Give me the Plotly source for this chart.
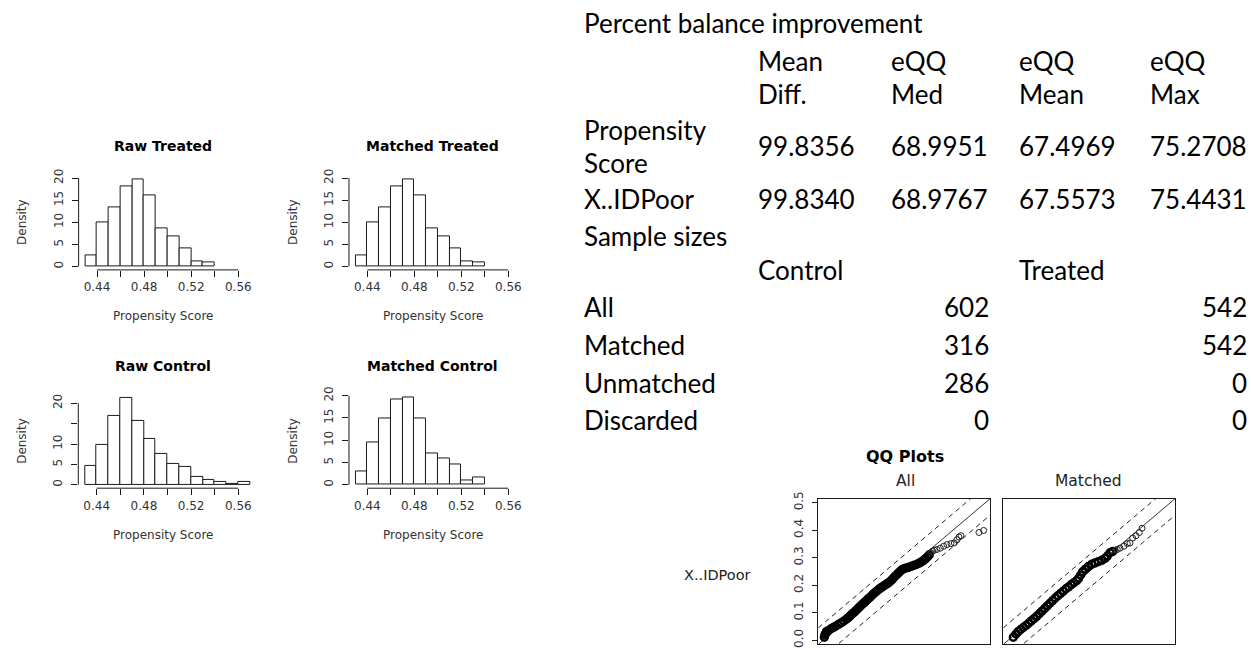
import plotly.graph_objects as go

W, H = 1251, 650

# ---- propensity score histograms (density scale, bin width 0.01) ----
BIN_WIDTH = 0.01
treated_mids = [0.435, 0.445, 0.455, 0.465, 0.475, 0.485, 0.495, 0.505, 0.515, 0.525, 0.535]
raw_treated_density = [2.5, 9.9, 13.3, 18.2, 19.6, 16.1, 8.5, 6.8, 4.1, 1.2, 1.0]
matched_treated_density = [2.5, 9.9, 13.3, 18.2, 19.6, 16.1, 8.5, 6.8, 4.1, 1.2, 1.0]
raw_control_mids = [0.435, 0.445, 0.455, 0.465, 0.475, 0.485, 0.495, 0.505, 0.515,
                    0.525, 0.535, 0.545, 0.555, 0.565]
raw_control_density = [4.7, 9.8, 17.0, 21.2, 15.6, 11.2, 7.6, 5.1, 4.4, 1.8, 1.1, 0.6, 0.3, 0.6]
matched_control_mids = [0.435, 0.445, 0.455, 0.465, 0.475, 0.485, 0.495, 0.505, 0.515, 0.525, 0.535]
matched_control_density = [2.9, 9.6, 14.9, 19.1, 19.5, 14.9, 7.0, 5.8, 4.6, 1.0, 1.6]

hist_x_ticks = [0.44, 0.46, 0.48, 0.50, 0.52, 0.54, 0.56]
hist_x_labels = ["0.44", "", "0.48", "", "0.52", "", "0.56"]
hist_y_ticks = [0, 5, 10, 15, 20]
hist_y_labels = ["0", "5", "10", "15", "20"]
hist_y_labels_short = ["0", "5", "10", "", "20"]

# ---- QQ plot of X..IDPoor (control quantiles vs treated quantiles) ----
qq_all_x = [0.0036, 0.0056, 0.0087, 0.0107, 0.0159, 0.0241, 0.0313, 0.0385, 0.0467, 0.0549,
            0.0631, 0.0713, 0.0775, 0.0837, 0.0898, 0.0960, 0.1021, 0.1083, 0.1145, 0.1206,
            0.1268, 0.1329, 0.1391, 0.1453, 0.1514, 0.1576, 0.1638, 0.1699, 0.1761, 0.1822,
            0.1884, 0.1946, 0.2007, 0.2069, 0.2130, 0.2192, 0.2254, 0.2315, 0.2377, 0.2438,
            0.2500, 0.2572, 0.2644, 0.2726, 0.2808, 0.2890, 0.2972, 0.3034, 0.3096, 0.3157,
            0.3219, 0.3270, 0.3322, 0.3373, 0.3424, 0.3506, 0.3609, 0.3712, 0.3815, 0.3938,
            0.4040, 0.4123, 0.4184, 0.4246, 0.4800, 0.4944]
qq_all_y = [0.0106, 0.0201, 0.0260, 0.0320, 0.0344, 0.0415, 0.0463, 0.0510, 0.0570, 0.0630,
            0.0689, 0.0760, 0.0820, 0.0891, 0.0963, 0.1022, 0.1094, 0.1165, 0.1237, 0.1308,
            0.1368, 0.1439, 0.1510, 0.1570, 0.1641, 0.1713, 0.1772, 0.1832, 0.1891, 0.1939,
            0.1987, 0.2034, 0.2082, 0.2141, 0.2213, 0.2296, 0.2368, 0.2439, 0.2510, 0.2570,
            0.2606, 0.2630, 0.2653, 0.2689, 0.2725, 0.2760, 0.2808, 0.2856, 0.2903, 0.2963,
            0.3034, 0.3106, 0.3177, 0.3237, 0.3272, 0.3296, 0.3344, 0.3415, 0.3475, 0.3510,
            0.3534, 0.3653, 0.3749, 0.3796, 0.3915, 0.3987]
qq_matched_x = [0.0159, 0.0241, 0.0313, 0.0385, 0.0467, 0.0549, 0.0631, 0.0713, 0.0795, 0.0878,
                0.0960, 0.1042, 0.1124, 0.1206, 0.1288, 0.1370, 0.1453, 0.1535, 0.1617, 0.1699,
                0.1781, 0.1863, 0.1946, 0.2028, 0.2110, 0.2171, 0.2233, 0.2295, 0.2377, 0.2469,
                0.2572, 0.2675, 0.2777, 0.2880, 0.2983, 0.3055, 0.3137, 0.3219, 0.3301, 0.3363,
                0.3445, 0.3568, 0.3671, 0.3753, 0.3835, 0.3938, 0.4040, 0.4123]
qq_matched_y = [0.0106, 0.0225, 0.0320, 0.0391, 0.0463, 0.0534, 0.0618, 0.0701, 0.0784, 0.0868,
                0.0963, 0.1058, 0.1153, 0.1249, 0.1344, 0.1439, 0.1534, 0.1618, 0.1701, 0.1784,
                0.1868, 0.1939, 0.2022, 0.2094, 0.2165, 0.2249, 0.2368, 0.2487, 0.2582, 0.2677,
                0.2760, 0.2808, 0.2856, 0.2903, 0.2975, 0.3058, 0.3177, 0.3225, 0.3272, 0.3296,
                0.3344, 0.3415, 0.3510, 0.3534, 0.3713, 0.3796, 0.3915, 0.4070]
qq_ticks = [0.0, 0.1, 0.2, 0.3, 0.4, 0.5]
qq_tick_labels = ["0.0", "0.1", "0.2", "0.3", "0.4", "0.5"]
QQ_RANGE = [-0.015, 0.514]
QQ_BAND = 0.06
QQ_DENSE_LIMIT = 0.33   # below this the quantile points overlap into a solid band

# ---- balance summary table ----
improvement_headers_top = ["Mean", "eQQ", "eQQ", "eQQ"]
improvement_headers_bottom = ["Diff.", "Med", "Mean", "Max"]
improvement_rows = ["Propensity\nScore", "X..IDPoor"]
improvement_values = [
    ["99.8356", "68.9951", "67.4969", "75.2708"],
    ["99.8340", "68.9767", "67.5573", "75.4431"],
]
sample_groups = ["Control", "Treated"]
sample_rows = ["All", "Matched", "Unmatched", "Discarded"]
sample_control = [602, 316, 286, 0]
sample_treated = [542, 542, 0, 0]

R_FONT = "DejaVu Sans"
TABLE_FONT = "Lato"
INK = "#1a1a1a"


def px(x):
    return x / W


def py(y):
    return 1 - y / H


fig = go.Figure()
annotations = []
shapes = []

# shared histogram x limits: break range 0.43-0.57 padded by 4%
HX0, HX1 = 0.43, 0.57
hist_xrange = [HX0 - 0.04 * (HX1 - HX0), HX1 + 0.04 * (HX1 - HX0)]

panels = [
    # name, mids, densities, x(0.44), x(0.56), y(0), y(20), text positions, y labels
    ("Raw Treated", treated_mids, raw_treated_density, 97.0, 238.3, 263.3, 173.3, (163, 141, 314, 218, 22), hist_y_labels),
    ("Matched Treated", treated_mids, matched_treated_density, 367.3, 508.3, 263.3, 173.3, (433, 141, 314, 218, 293), hist_y_labels),
    ("Raw Control", raw_control_mids, raw_control_density, 96.7, 238.3, 485.7, 402.7, (163, 365, 537, 441, 22), hist_y_labels_short),
    ("Matched Control", matched_control_mids, matched_control_density, 367.3, 508.3, 485.7, 395.0, (433, 365, 537, 441, 293), hist_y_labels),
]

for i, (name, mids, dens, x44, x56, y0, y20, pos, ylabels) in enumerate(panels, start=1):
    xa = "x" if i == 1 else f"x{i}"
    ya = "y" if i == 1 else f"y{i}"
    ymax = max(dens)
    yrange = [-0.04 * ymax, 1.04 * ymax]
    sx = (x56 - x44) / 0.12
    sy = (y0 - y20) / 20.0
    left = x44 + (hist_xrange[0] - 0.44) * sx
    right = x44 + (hist_xrange[1] - 0.44) * sx
    bottom = y0 - yrange[0] * sy
    top = y0 - yrange[1] * sy

    fig.add_trace(go.Bar(
        x=mids, y=dens, width=BIN_WIDTH, xaxis=xa, yaxis=ya,
        marker=dict(color="white", line=dict(color=INK, width=1)),
        showlegend=False, hoverinfo="x+y",
    ))

    axis_key = "xaxis" if i == 1 else f"xaxis{i}"
    yaxis_key = "yaxis" if i == 1 else f"yaxis{i}"
    fig.layout[axis_key] = dict(
        domain=[px(left), px(right)], range=hist_xrange, anchor=ya,
        showgrid=False, zeroline=False, showline=False,
        tickvals=hist_x_ticks, ticktext=hist_x_labels,
        ticks="outside", ticklen=6, tickcolor=INK, tickwidth=1,
        tickfont=dict(family=R_FONT, size=12, color="#333"),
    )
    fig.layout[yaxis_key] = dict(
        domain=[py(bottom), py(top)], range=yrange, anchor=xa,
        showgrid=False, zeroline=False, showline=False,
        tickvals=hist_y_ticks, ticktext=ylabels, tickangle=-90,
        ticks="outside", ticklen=6, tickcolor=INK, tickwidth=1,
        ticklabelstandoff=4,
        tickfont=dict(family=R_FONT, size=12, color="#333"),
    )
    # R-style axis lines spanning the first to last tick only
    shapes.append(dict(type="line", xref=xa, yref=f"{ya} domain",
                       x0=hist_x_ticks[0], x1=hist_x_ticks[-1], y0=0, y1=0,
                       line=dict(color=INK, width=1)))
    shapes.append(dict(type="line", xref=f"{xa} domain", yref=ya,
                       x0=0, x1=0, y0=hist_y_ticks[0], y1=hist_y_ticks[-1],
                       line=dict(color=INK, width=1)))

    tx, ty, lab_y, dens_y, dens_x = pos
    annotations.append(dict(text=f"<b>{name}</b>", x=px(tx), y=py(ty), xref="paper", yref="paper",
                            showarrow=False, xanchor="center", yanchor="middle",
                            font=dict(family=R_FONT, size=14, color="black")))
    annotations.append(dict(text="Propensity Score", x=px(tx), y=py(lab_y), xref="paper", yref="paper",
                            showarrow=False, xanchor="center", yanchor="middle",
                            font=dict(family=R_FONT, size=12, color="#333")))
    annotations.append(dict(text="Density", x=px(dens_x), y=py(dens_y), xref="paper", yref="paper",
                            showarrow=False, xanchor="center", yanchor="middle", textangle=-90,
                            font=dict(family=R_FONT, size=12, color="#333")))

# ---- QQ panels ----
qq_panels = [
    ("All", qq_all_x, qq_all_y, 818.3, 990.0, 905),
    ("Matched", qq_matched_x, qq_matched_y, 1003.3, 1175.0, 1088),
]
QQ_TOP, QQ_BOTTOM = 500.0, 648.3
for j, (label, qx, qy, left, right, cx) in enumerate(qq_panels, start=5):
    xa, ya = f"x{j}", f"y{j}"
    lo, hi = QQ_RANGE
    fig.add_trace(go.Scatter(x=[lo, hi], y=[lo, hi], mode="lines", xaxis=xa, yaxis=ya,
                             line=dict(color="#333", width=1), showlegend=False, hoverinfo="skip"))
    for off in (QQ_BAND, -QQ_BAND):
        fig.add_trace(go.Scatter(x=[lo, hi], y=[lo + off, hi + off], mode="lines", xaxis=xa, yaxis=ya,
                                 line=dict(color="#222", width=1, dash="5px,4px"),
                                 showlegend=False, hoverinfo="skip"))
    dense_x = [a for a in qx if a <= QQ_DENSE_LIMIT]
    dense_y = [b for a, b in zip(qx, qy) if a <= QQ_DENSE_LIMIT]
    sparse_x = [a for a in qx if a > QQ_DENSE_LIMIT]
    sparse_y = [b for a, b in zip(qx, qy) if a > QQ_DENSE_LIMIT]
    fig.add_trace(go.Scatter(x=dense_x, y=dense_y, mode="markers", xaxis=xa, yaxis=ya,
                             marker=dict(symbol="circle-open", size=7, color="black",
                                         line=dict(width=2.4, color="black")),
                             showlegend=False))
    fig.add_trace(go.Scatter(x=sparse_x, y=sparse_y, mode="markers", xaxis=xa, yaxis=ya,
                             marker=dict(symbol="circle-open", size=6, color="#222",
                                         line=dict(width=1, color="#222")),
                             showlegend=False))
    fig.layout[f"xaxis{j}"] = dict(
        domain=[px(left), px(right)], range=QQ_RANGE, anchor=ya,
        showgrid=False, zeroline=False, showline=True, mirror=True,
        linecolor=INK, linewidth=1, showticklabels=False, ticks="",
    )
    ycfg = dict(
        domain=[py(QQ_BOTTOM), py(QQ_TOP)], range=QQ_RANGE, anchor=xa,
        showgrid=False, zeroline=False, showline=True, mirror=True,
        linecolor=INK, linewidth=1,
    )
    if j == 5:
        ycfg.update(tickvals=qq_ticks, ticktext=qq_tick_labels, tickangle=-90,
                    ticks="outside", ticklen=5, tickcolor=INK, ticklabeloverflow="allow",
                    ticklabelstandoff=5,
                    tickfont=dict(family=R_FONT, size=12, color="#333"))
    else:
        ycfg.update(showticklabels=False, ticks="")
    fig.layout[f"yaxis{j}"] = ycfg
    annotations.append(dict(text=label, x=px(cx), y=py(482), xref="paper", yref="paper",
                            showarrow=False, xanchor="center", yanchor="middle",
                            font=dict(family=R_FONT, size=15.5, color="#222")))

annotations.append(dict(text="<b>QQ Plots</b>", x=px(905), y=py(457), xref="paper", yref="paper",
                        showarrow=False, xanchor="center", yanchor="middle",
                        font=dict(family=R_FONT, size=16, color="black")))
annotations.append(dict(text="X..IDPoor", x=px(718), y=py(578), xref="paper", yref="paper",
                        showarrow=False, xanchor="center", yanchor="middle",
                        font=dict(family=R_FONT, size=14.5, color="#222")))

# ---- summary table text ----
TS = 26


def table_text(text, x, y, anchor="left"):
    annotations.append(dict(text=text, x=px(x), y=py(y), xref="paper", yref="paper",
                            showarrow=False, xanchor=anchor, yanchor="middle",
                            font=dict(family=TABLE_FONT, size=TS, color="black")))


col_x = [756, 889, 1017, 1148]
table_text("Percent balance improvement", 582, 15)
for cxp, t, b in zip(col_x, improvement_headers_top, improvement_headers_bottom):
    table_text(t, cxp, 54)
    table_text(b, cxp, 88)
row_y = [141, 195]
for (rname, vals, ry) in zip(improvement_rows, improvement_values, row_y):
    parts = rname.split("\n")
    if len(parts) == 2:
        table_text(parts[0], 582, ry - 17)
        table_text(parts[1], 582, ry + 17)
    else:
        table_text(parts[0], 582, ry)
    for cxp, v in zip(col_x, vals):
        table_text(v, cxp, ry)
table_text("Sample sizes", 582, 232)
table_text(sample_groups[0], 756, 267)
table_text(sample_groups[1], 1017, 267)
for rname, c, t, ry in zip(sample_rows, sample_control, sample_treated, [305, 343, 382, 420]):
    table_text(rname, 582, ry)
    table_text(str(c), 991, ry, anchor="right")
    table_text(str(t), 1249, ry, anchor="right")

fig.update_layout(
    width=W, height=H, margin=dict(l=0, r=0, t=0, b=0),
    paper_bgcolor="white", plot_bgcolor="white",
    annotations=annotations, shapes=shapes, bargap=0,
)

fig.write_html("out.html")
